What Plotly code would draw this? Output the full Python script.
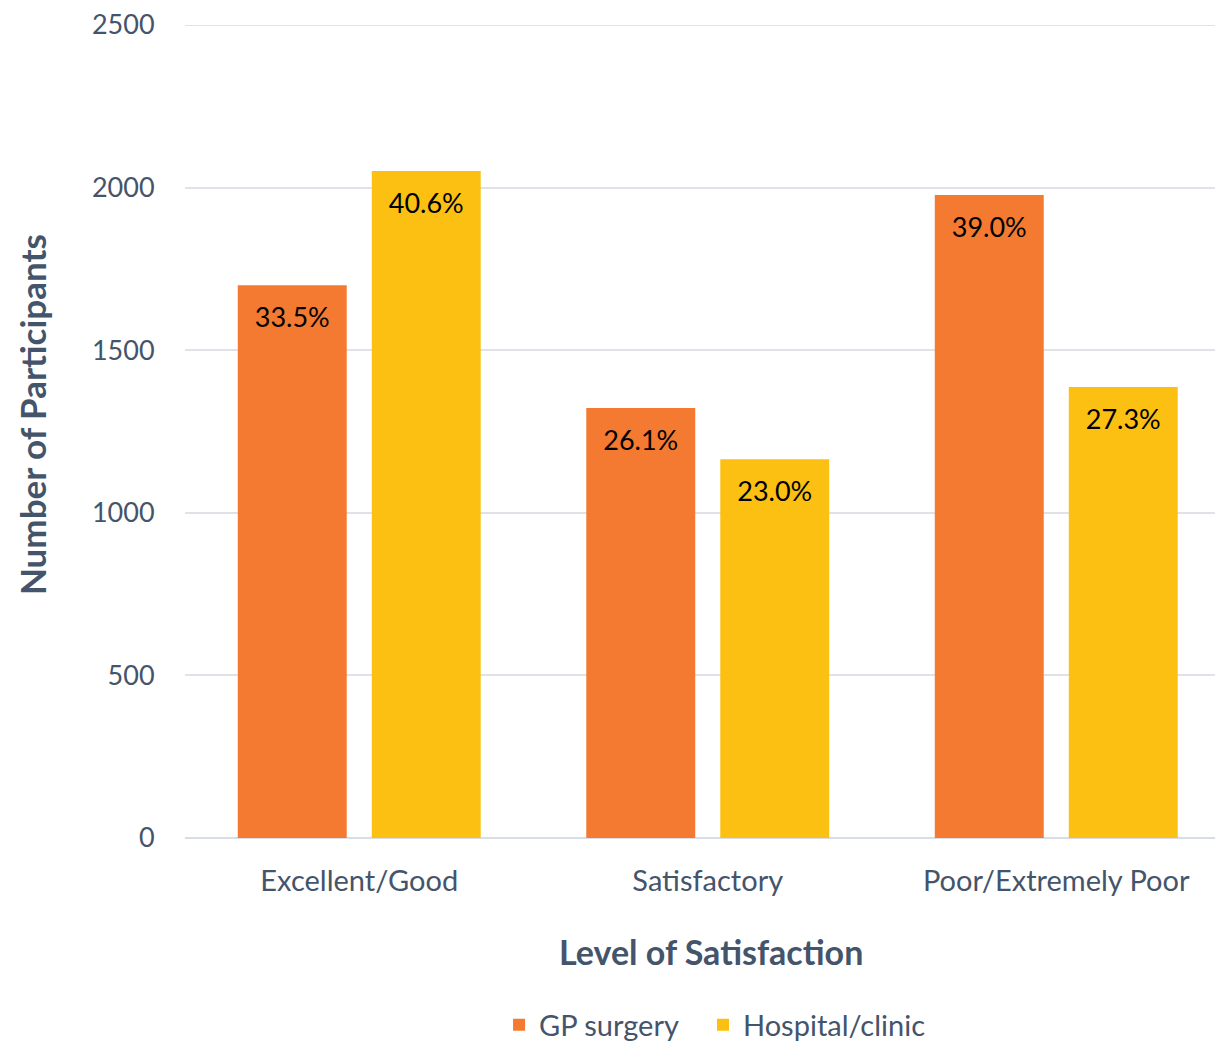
import plotly.graph_objects as go

categories = ["Excellent/Good", "Satisfactory", "Poor/Extremely Poor"]
gp_values = [1700, 1322, 1977]
hospital_values = [2051, 1165, 1387]
gp_pct = ["33.5%", "26.1%", "39.0%"]
hospital_pct = ["40.6%", "23.0%", "27.3%"]
series_names = ["GP surgery", "Hospital/clinic"]
y_ticks = [0, 500, 1000, 1500, 2000, 2500]
x_title = "Level of Satisfaction"
y_title = "Number of Participants"

FONT = "Lato"
TXT = "#44546A"
GRID = "#DFE3E8"

def lbl(p):
    return "<span style='font-size:4px'>\u00a0</span><br>" + p

fig = go.Figure()
fig.add_trace(go.Bar(
    x=categories, y=gp_values, name=series_names[0], legend="legend",
    marker=dict(color="#F37A30", line=dict(width=0)),
    text=[lbl(p) for p in gp_pct], textposition="inside", insidetextanchor="end",
    textangle=0, textfont=dict(family=FONT, size=27, color="#000000"),
    hoverinfo="skip",
))
fig.add_trace(go.Bar(
    x=categories, y=hospital_values, name=series_names[1], legend="legend2",
    marker=dict(color="#FBC012", line=dict(width=0)),
    text=[lbl(p) for p in hospital_pct], textposition="inside", insidetextanchor="end",
    textangle=0, textfont=dict(family=FONT, size=27, color="#000000"),
    hoverinfo="skip",
))

# top gridline (plotly omits the gridline at the very edge of the range)
fig.add_shape(type="line", xref="paper", x0=0, x1=1, yref="y", y0=y_ticks[-1], y1=y_ticks[-1],
              line=dict(color=GRID, width=2), layer="below")

# axis titles as annotations for exact placement
fig.add_annotation(text="<b>" + y_title + "</b>", xref="paper", yref="paper",
                   x=-0.1485, y=0.5203, xanchor="center", yanchor="middle",
                   textangle=-90, showarrow=False,
                   font=dict(family=FONT, size=35, color=TXT))
fig.add_annotation(text="<b>" + x_title + "</b>", xref="paper", yref="paper",
                   x=0.5107, y=-0.1402, xanchor="center", yanchor="middle",
                   showarrow=False,
                   font=dict(family=FONT, size=34, color=TXT))

legend_style = dict(orientation="h", yanchor="middle", y=-0.23, xanchor="left",
                    font=dict(family=FONT, size=29, color=TXT), itemwidth=30,
                    bgcolor="rgba(0,0,0,0)")

fig.update_layout(
    width=1215, height=1043,
    margin=dict(l=185, r=0, t=25, b=205, autoexpand=False),
    paper_bgcolor="white", plot_bgcolor="white",
    barmode="group", bargap=0.231, bargroupgap=0.187,
    font=dict(family=FONT, color=TXT, size=27),
    showlegend=True,
    legend=dict(x=0.3049, **legend_style),
    legend2=dict(x=0.5029, **legend_style),
    xaxis=dict(
        range=[-0.5, 2.4555],
        tickfont=dict(family=FONT, size=29, color=TXT),
        ticks="outside", ticklen=17, tickcolor="rgba(0,0,0,0)",
        showline=False, showgrid=False, zeroline=False, automargin=False,
    ),
    yaxis=dict(
        range=[0, 2500], tickvals=y_ticks,
        tickfont=dict(family=FONT, size=27, color=TXT),
        ticks="outside", ticklen=24, tickcolor="rgba(0,0,0,0)",
        showgrid=True, gridcolor=GRID, gridwidth=2,
        zeroline=True, zerolinecolor="#D9DEE6", zerolinewidth=2,
        showline=False, automargin=False,
    ),
)

fig.write_html(
    "out.html",
    config={"displayModeBar": False},
    post_script="document.body.style.margin='0';document.body.style.overflow='hidden';",
)
